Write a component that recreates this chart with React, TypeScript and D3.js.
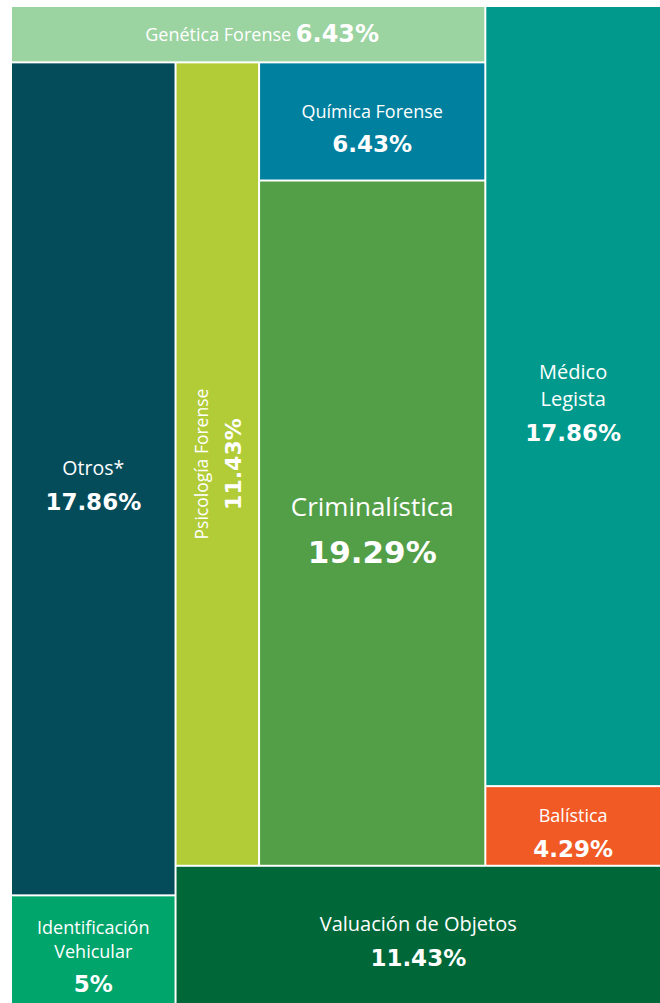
import React from 'react';
import * as d3 from 'd3';

// ---- data ----
const categories = [
  'Genética Forense',
  'Médico Legista',
  'Balística',
  'Valuación de Objetos',
  'Otros*',
  'Identificación Vehicular',
  'Psicología Forense',
  'Química Forense',
  'Criminalística',
];
const values = [6.43, 17.86, 4.29, 11.43, 17.86, 5, 11.43, 6.43, 19.29];
const labelLines = [
  ['Genética Forense'],
  ['Médico', 'Legista'],
  ['Balística'],
  ['Valuación de Objetos'],
  ['Otros*'],
  ['Identificación', 'Vehicular'],
  ['Psicología Forense'],
  ['Química Forense'],
  ['Criminalística'],
];
const pctLabels = ['6.43%', '17.86%', '4.29%', '11.43%', '17.86%', '5%', '11.43%', '6.43%', '19.29%'];

// pinwheel arms: top, right, bottom, left, center
const armTop = ['Genética Forense'];
const armRight = ['Médico Legista', 'Balística'];
const armBottom = ['Valuación de Objetos'];
const armLeft = ['Otros*', 'Identificación Vehicular'];
const centerCol = ['Psicología Forense'];
const centerStack = ['Química Forense', 'Criminalística'];

// ---- styles ----
const colors: Record<string, string> = {
  'Genética Forense': '#9bd3a1',
  'Médico Legista': '#00998b',
  'Balística': '#f15a25',
  'Valuación de Objetos': '#006838',
  'Otros*': '#054c5b',
  'Identificación Vehicular': '#00a56c',
  'Psicología Forense': '#b2cc37',
  'Química Forense': '#00809f',
  'Criminalística': '#539f48',
};
const textStyle: Record<string, { label: number; pct: number; mode?: string }> = {
  'Genética Forense': { label: 18, pct: 24, mode: 'inline' },
  'Médico Legista': { label: 20, pct: 23 },
  'Balística': { label: 18, pct: 23 },
  'Valuación de Objetos': { label: 20, pct: 23 },
  'Otros*': { label: 19.5, pct: 23 },
  'Identificación Vehicular': { label: 18, pct: 23 },
  'Psicología Forense': { label: 17.5, pct: 22, mode: 'rotated' },
  'Química Forense': { label: 18, pct: 23 },
  'Criminalística': { label: 26, pct: 31 },
};

const WIDTH = 660;
const HEIGHT = 1003;
const margin = { left: 12, top: 7 };
const innerW = WIDTH - margin.left;
const innerH = HEIGHT - margin.top;
const LABEL_FONT = '"Open Sans", Lato, sans-serif';
const PCT_FONT = '"DejaVu Sans", Verdana, sans-serif';

const leaf = (name: string) => {
  const i = categories.indexOf(name);
  return { name, value: values[i], index: i };
};

const treeData = {
  name: 'root',
  kind: 'pinwheel',
  children: [
    { name: 'top', kind: 'slice', children: armTop.map(leaf) },
    { name: 'right', kind: 'slice', children: armRight.map(leaf) },
    { name: 'bottom', kind: 'slice', children: armBottom.map(leaf) },
    { name: 'left', kind: 'slice', children: armLeft.map(leaf) },
    {
      name: 'center',
      kind: 'dice',
      children: [...centerCol.map(leaf), { name: 'stack', kind: 'slice', children: centerStack.map(leaf) }],
    },
  ],
};

function pinwheel(node: any, x0: number, y0: number, x1: number, y1: number) {
  const W = x1 - x0;
  const H = y1 - y0;
  const A = W * H;
  const [top, right, bottom, left, center] = node.children;
  const fT = (top.value / node.value) * A;
  const fR = (right.value / node.value) * A;
  const fB = (bottom.value / node.value) * A;
  const fL = (left.value / node.value) * A;
  let a = W * 0.25, b = H * 0.06, c = W * 0.72, d = H * 0.9;
  for (let it = 0; it < 200; it++) {
    b = fT / c;
    a = fL / (H - b);
    d = H - fB / (W - a);
    c = W - fR / d;
  }
  const set = (n: any, ax: number, ay: number, bx: number, by: number) => {
    n.x0 = ax; n.y0 = ay; n.x1 = bx; n.y1 = by;
  };
  set(top, x0, y0, x0 + c, y0 + b);
  set(right, x0 + c, y0, x1, y0 + d);
  set(bottom, x0 + a, y0 + d, x1, y1);
  set(left, x0, y0 + b, x0 + a, y1);
  set(center, x0 + a, y0 + b, x0 + c, y0 + d);
}

function tile(node: any, x0: number, y0: number, x1: number, y1: number) {
  const k = node.data.kind;
  if (k === 'pinwheel') pinwheel(node, x0, y0, x1, y1);
  else if (k === 'dice') d3.treemapDice(node, x0, y0, x1, y1);
  else d3.treemapSlice(node, x0, y0, x1, y1);
}

const areaScale = d3.scalePow().exponent(1.6).domain([0, d3.max(values) as number]).range([0, 1]);

export default function App() {
  const root = d3
    .hierarchy<any>(treeData)
    .sum((d: any) => (d.children ? 0 : areaScale(d.value)));
  d3.treemap<any>().tile(tile as any).size([innerW, innerH]).paddingInner(2)(root);
  const leaves = root.leaves() as any[];

  return (
    <svg
      width={WIDTH}
      height={HEIGHT}
      style={{ position: 'absolute', left: 0, top: 0, background: '#ffffff' }}
    >
      <g transform={`translate(${margin.left},${margin.top})`}>
        {leaves.map((n) => {
          const name = n.data.name as string;
          const i = n.data.index as number;
          const st = textStyle[name];
          const cx = (n.x0 + n.x1) / 2;
          const cy = (n.y0 + n.y1) / 2;
          const lines = labelLines[i];
          let textEl: any;
          if (st.mode === 'inline') {
            textEl = (
              <text x={cx + 14} y={cy} textAnchor="middle" dominantBaseline="central" fill="#fff">
                <tspan fontSize={st.label} fontFamily={LABEL_FONT}>{lines.join(' ')} </tspan>
                <tspan fontSize={st.pct} fontWeight={700} fontFamily={PCT_FONT}>{pctLabels[i]}</tspan>
              </text>
            );
          } else {
            const lh = st.label * 1.35;
            const pos: number[] = lines.map((_, j) => j * lh);
            const pctPos = pos[pos.length - 1] + st.label / 2 + st.pct * 1.05;
            const mid = (pos[0] + pctPos) / 2;
            const off = st.mode === 'rotated' ? 0 : 6;
            const content = (
              <>
                {lines.map((l, j) => (
                  <text
                    key={j}
                    x={0}
                    y={pos[j] - mid + off}
                    textAnchor="middle"
                    dominantBaseline="central"
                    fontSize={st.label}
                    fontFamily={LABEL_FONT}
                    fill="#fff"
                  >
                    {l}
                  </text>
                ))}
                <text
                  x={0}
                  y={pctPos - mid + off}
                  textAnchor="middle"
                  dominantBaseline="central"
                  fontSize={st.pct}
                  fontFamily={PCT_FONT}
                  fontWeight={700}
                  fill="#fff"
                >
                  {pctLabels[i]}
                </text>
              </>
            );
            textEl = (
              <g transform={`translate(${cx},${cy})${st.mode === 'rotated' ? ' rotate(-90)' : ''}`}>{content}</g>
            );
          }
          return (
            <g key={name}>
              <rect x={n.x0} y={n.y0} width={n.x1 - n.x0} height={n.y1 - n.y0} fill={colors[name]} />
              {textEl}
            </g>
          );
        })}
      </g>
    </svg>
  );
}
